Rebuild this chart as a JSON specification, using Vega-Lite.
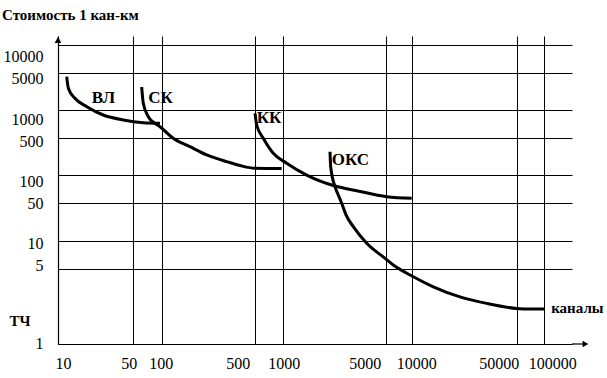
{
  "$schema": "https://vega.github.io/schema/vega-lite/v6.json",
  "width": 514,
  "height": 308,
  "autosize": {"type": "none"},
  "padding": {"left": 58, "top": 36, "right": 35, "bottom": 34},
  "background": "white",
  "view": {"stroke": null},
  "title": {
    "text": "Стоимость 1 кан-км",
    "anchor": "start",
    "frame": "group",
    "dx": -56,
    "offset": 6,
    "baseline": "middle",
    "font": "Times New Roman, Liberation Serif, serif",
    "fontSize": 15,
    "fontWeight": "bold",
    "color": "black"
  },
  "datasets": {
    "curves": [
      {"curve": "ВЛ", "x": 12.06, "y": 4312},
      {"curve": "ВЛ", "x": 12.5, "y": 2604},
      {"curve": "ВЛ", "x": 14.4, "y": 1686},
      {"curve": "ВЛ", "x": 18.6, "y": 1169},
      {"curve": "ВЛ", "x": 26.5, "y": 890},
      {"curve": "ВЛ", "x": 40.8, "y": 787},
      {"curve": "ВЛ", "x": 64.4, "y": 736},
      {"curve": "ВЛ", "x": 96, "y": 725},
      {"curve": "СК", "x": 62, "y": 2755},
      {"curve": "СК", "x": 64.4, "y": 1356},
      {"curve": "СК", "x": 72.6, "y": 853},
      {"curve": "СК", "x": 85.2, "y": 725},
      {"curve": "СК", "x": 96, "y": 666},
      {"curve": "СК", "x": 122, "y": 500},
      {"curve": "СК", "x": 163, "y": 347},
      {"curve": "СК", "x": 218, "y": 242},
      {"curve": "СК", "x": 308, "y": 181},
      {"curve": "СК", "x": 388, "y": 153},
      {"curve": "СК", "x": 500, "y": 136},
      {"curve": "СК", "x": 975, "y": 134},
      {"curve": "КК", "x": 504, "y": 928},
      {"curve": "КК", "x": 525, "y": 695},
      {"curve": "КК", "x": 619, "y": 500},
      {"curve": "КК", "x": 792, "y": 260},
      {"curve": "КК", "x": 1064, "y": 169},
      {"curve": "КК", "x": 1455, "y": 101},
      {"curve": "КК", "x": 2264, "y": 76.7},
      {"curve": "КК", "x": 3178, "y": 68.3},
      {"curve": "КК", "x": 5132, "y": 58.9},
      {"curve": "КК", "x": 9845, "y": 56.6},
      {"curve": "ОКС", "x": 2094, "y": 279},
      {"curve": "ОКС", "x": 2117, "y": 145},
      {"curve": "ОКС", "x": 2264, "y": 75.4},
      {"curve": "ОКС", "x": 2384, "y": 61.4},
      {"curve": "ОКС", "x": 2514, "y": 50},
      {"curve": "ОКС", "x": 2689, "y": 30.5},
      {"curve": "ОКС", "x": 3014, "y": 18.6},
      {"curve": "ОКС", "x": 3716, "y": 9.52},
      {"curve": "ОКС", "x": 4946, "y": 6.56},
      {"curve": "ОКС", "x": 6095, "y": 5.56},
      {"curve": "ОКС", "x": 10155, "y": 4.26},
      {"curve": "ОКС", "x": 13822, "y": 3.43},
      {"curve": "ОКС", "x": 20861, "y": 2.76},
      {"curve": "ОКС", "x": 31484, "y": 2.4},
      {"curve": "ОКС", "x": 50000, "y": 2.15},
      {"curve": "ОКС", "x": 69830, "y": 2.12},
      {"curve": "ОКС", "x": 100000, "y": 2.12}
    ],
    "labels": [
      {"label": "ВЛ", "x": 20.7, "y": 1686},
      {"label": "СК", "x": 72.6, "y": 1707},
      {"label": "КК", "x": 525, "y": 820},
      {"label": "ОКС", "x": 2150, "y": 195}
    ],
    "xarrow": [{"x": 200000, "x2": 280000, "y": 1}],
    "arrows": [
      {"shape": "triangle-right", "x": 280000, "y": 1},
      {"shape": "triangle-up", "x": 10, "y": 11321}
    ]
  },
  "encoding": {
    "x": {
      "field": "x",
      "type": "quantitative",
      "scale": {
        "type": "log",
        "domain": [10, 50, 100, 500, 1000, 5000, 10000, 50000, 100000, 200000],
        "range": [0, 74.7, 103.7, 196.7, 224.7, 327.7, 354.3, 458.7, 486.3, 514],
        "nice": false,
        "zero": false
      },
      "axis": {
        "title": "каналы",
        "titleAngle": 0,
        "titleX": 492.7,
        "titleY": -36.7,
        "titleAlign": "left",
        "titleBaseline": "middle",
        "titleFont": "Times New Roman, Liberation Serif, serif",
        "titleFontSize": 15,
        "titleFontWeight": "bold",
        "titleColor": "black",
        "values": [10, 50, 100, 500, 1000, 5000, 10000, 50000, 100000],
        "format": "d",
        "grid": true,
        "gridColor": "black",
        "gridOpacity": 1,
        "gridWidth": 1,
        "domain": true,
        "domainColor": "black",
        "domainWidth": 1.2,
        "ticks": false,
        "tickSize": 0,
        "labelFont": "Times New Roman, Liberation Serif, serif",
        "labelFontSize": 16,
        "labelColor": "black",
        "labelBaseline": "middle",
        "labelAlign": "center",
        "labelPadding": 19,
        "labelFlush": false,
        "labelOverlap": false,
        "labelOffset": {"expr": "datum.value==10?5:datum.value==50?-4:datum.value==100?-1:datum.value==500?-17:datum.value==1000?1:datum.value==5000?-21:datum.value==10000?4:datum.value==50000?-18:datum.value==100000?8:0"}
      }
    },
    "y": {
      "field": "y",
      "type": "quantitative",
      "scale": {
        "type": "log",
        "domain": [1, 5, 10, 50, 100, 500, 1000, 5000, 10000, 12500],
        "range": [308, 233.3, 205.3, 167.3, 139.3, 102.3, 74.3, 37.3, 9, 0],
        "nice": false,
        "zero": false
      },
      "axis": {
        "title": "ТЧ",
        "titleAngle": 0,
        "titleX": -49,
        "titleY": 284,
        "titleAlign": "left",
        "titleBaseline": "middle",
        "titleFont": "Times New Roman, Liberation Serif, serif",
        "titleFontSize": 15,
        "titleFontWeight": "bold",
        "titleColor": "black",
        "values": [1, 5, 10, 50, 100, 500, 1000, 5000, 10000],
        "format": "d",
        "grid": true,
        "gridColor": "black",
        "gridOpacity": 1,
        "gridWidth": 1,
        "domain": true,
        "domainColor": "black",
        "domainWidth": 1.2,
        "ticks": false,
        "tickSize": 0,
        "labelFont": "Times New Roman, Liberation Serif, serif",
        "labelFontSize": 16,
        "labelColor": "black",
        "labelAlign": "right",
        "labelBaseline": "middle",
        "labelPadding": 15,
        "labelFlush": false,
        "labelOverlap": false,
        "labelOffset": {"expr": "datum.value==10000?11.7:datum.value==5000?5.4:datum.value==1000?8.7:datum.value==500?3.4:datum.value==100?6:datum.value==10?1.7:datum.value==5?-4.3:datum.value==1?-1:0"}
      }
    }
  },
  "layer": [
    {
      "data": {"name": "curves"},
      "mark": {"type": "line", "color": "black", "strokeWidth": 3, "interpolate": "monotone"},
      "encoding": {"detail": {"field": "curve"}}
    },
    {
      "data": {"name": "labels"},
      "mark": {"type": "text", "align": "left", "baseline": "middle", "font": "Times New Roman, Liberation Serif, serif", "fontSize": 17, "fontWeight": "bold", "color": "black"},
      "encoding": {"text": {"field": "label"}}
    },
    {
      "data": {"name": "xarrow"},
      "mark": {"type": "rule", "color": "black", "strokeWidth": 1.2},
      "encoding": {"x2": {"field": "x2"}}
    },
    {
      "data": {"name": "arrows"},
      "mark": {"type": "point", "filled": true, "color": "black", "size": 45, "opacity": 1},
      "encoding": {"shape": {"field": "shape", "type": "nominal", "scale": null}}
    }
  ]
}
